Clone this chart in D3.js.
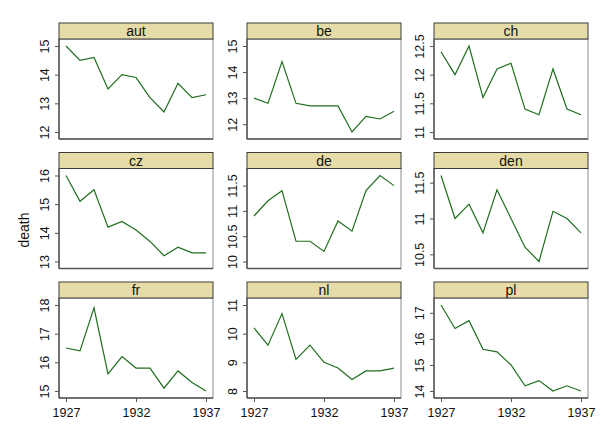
<!DOCTYPE html>
<html><head><meta charset="utf-8">
<script src="https://cdn.jsdelivr.net/npm/d3@7"></script>
<style>body{margin:0;background:#fff}svg{display:block}text{font-family:"Liberation Sans",Arial,sans-serif}</style>
</head><body><div id="chart"></div>
<script>
const years = [1927,1928,1929,1930,1931,1932,1933,1934,1935,1936,1937];
const countries = ["aut","be","ch","cz","de","den","fr","nl","pl"];
const aut = [15.0,14.5,14.6,13.5,14.0,13.9,13.2,12.7,13.7,13.2,13.3];
const be  = [13.0,12.8,14.4,12.8,12.7,12.7,12.7,11.7,12.3,12.2,12.5];
const ch  = [12.4,12.0,12.5,11.6,12.1,12.2,11.4,11.3,12.1,11.4,11.3];
const cz  = [16.0,15.1,15.5,14.2,14.4,14.1,13.7,13.2,13.5,13.3,13.3];
const de  = [10.9,11.2,11.4,10.4,10.4,10.2,10.8,10.6,11.4,11.7,11.5];
const den = [11.6,11.0,11.2,10.8,11.4,11.0,10.6,10.4,11.1,11.0,10.8];
const fr  = [16.5,16.4,17.9,15.6,16.2,15.8,15.8,15.1,15.7,15.3,15.0];
const nl  = [10.2,9.6,10.7,9.1,9.6,9.0,8.8,8.4,8.7,8.7,8.8];
const pl  = [17.3,16.4,16.7,15.6,15.5,15.0,14.2,14.4,14.0,14.2,14.0];
const xTicks = [1927,1932,1937];
const yTicks = {
  aut:[12,13,14,15], be:[12,13,14,15], ch:[11,11.5,12,12.5],
  cz:[13,14,15,16], de:[10,10.5,11,11.5], den:[10.5,11,11.5],
  fr:[15,16,17,18], nl:[8,9,10,11], pl:[14,15,16,17]
};
const series = {aut,be,ch,cz,de,den,fr,nl,pl};
const yLabel = "death";

const W=610,H=443;
const svg=d3.select("#chart").append("svg").attr("width",W).attr("height",H);
const colLeft=[59,247,434], panelW=154;
const stripTop=[23,152.5,282], stripH=16, plotH=100;
const pad=7;
const lineColor="#1e6e1e";

countries.forEach((c,i)=>{
  const col=i%3,row=Math.floor(i/3);
  const x0=colLeft[col], sTop=stripTop[row], pTop=sTop+stripH, pBot=pTop+plotH;
  const g=svg.append("g");
  const vals=series[c];
  const ext=d3.extent(vals.concat(yTicks[c]));
  const x=d3.scaleLinear().domain([1927,1937]).range([x0+pad,x0+panelW-pad]);
  const y=d3.scaleLinear().domain(ext).range([pBot-pad,pTop+pad]);
  g.append("rect").attr("x",x0).attr("y",pTop).attr("width",panelW).attr("height",plotH)
    .attr("fill","#fff").attr("stroke","#8c8c8c").attr("stroke-width",1);
  g.append("rect").attr("x",x0).attr("y",sTop).attr("width",panelW).attr("height",stripH)
    .attr("fill","#e6dca8").attr("stroke","#3a3a3a").attr("stroke-width",1);
  g.append("text").attr("x",x0+panelW/2).attr("y",sTop+stripH/2+5).attr("text-anchor","middle")
    .attr("font-size",14).attr("fill","#111").text(c);
  const ya=g.append("g").attr("transform",`translate(${x0},0)`)
    .call(d3.axisLeft(y).tickValues(yTicks[c]).tickSize(4).tickPadding(3).tickFormat(d3.format("")));
  ya.select(".domain").attr("d",`M0,${pTop}V${pBot}`).attr("stroke","#555").attr("stroke-width",1.5);
  ya.selectAll(".tick line").attr("stroke","#555");
  ya.selectAll(".tick text").attr("font-size",12.5).attr("fill","#111")
    .attr("font-family","Liberation Sans, Arial, sans-serif")
    .attr("transform","rotate(-90)").attr("x",0).attr("y",-10).attr("dy","0")
    .attr("text-anchor","middle");
  const xa=g.append("g").attr("transform",`translate(0,${pBot})`)
    .call(d3.axisBottom(x).tickValues(xTicks).tickSize(row===2?4:0).tickFormat(row===2?d3.format("d"):()=>""));
  xa.select(".domain").attr("d",`M${x0},0H${x0+panelW}`).attr("stroke","#555").attr("stroke-width",1.5);
  xa.selectAll(".tick line").attr("stroke","#555");
  xa.selectAll(".tick text").attr("font-size",12.5).attr("fill","#111")
    .attr("font-family","Liberation Sans, Arial, sans-serif").attr("dy","1em").attr("y",6);
  const line=d3.line().x((d,k)=>x(years[k])).y(d=>y(d));
  g.append("path").datum(vals).attr("d",line).attr("fill","none")
    .attr("stroke",lineColor).attr("stroke-width",1.2);
});
svg.append("text").attr("transform","translate(29,230) rotate(-90)").attr("text-anchor","middle")
  .attr("font-size",14).attr("fill","#111").text(yLabel);
</script></body></html>
